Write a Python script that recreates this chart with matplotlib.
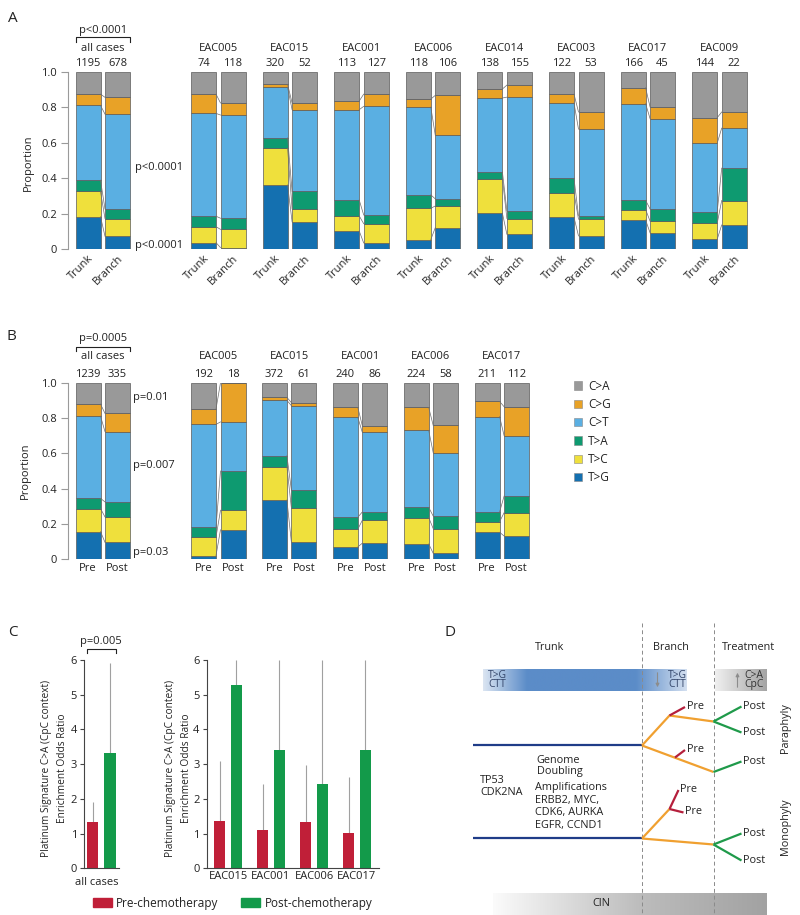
import matplotlib
matplotlib.use("Agg")
import matplotlib.pyplot as plt
import matplotlib.transforms as mtransforms
import numpy as np
from matplotlib.patches import Patch

plt.rcParams["font.family"] = ["Open Sans", "DejaVu Sans"]
plt.rcParams["font.size"] = 8
plt.rcParams["text.color"] = "#222222"
plt.rcParams["axes.labelcolor"] = "#222222"
plt.rcParams["xtick.color"] = "#222222"
plt.rcParams["ytick.color"] = "#222222"

W, H = 800, 915

# mutation classes, bottom to top of every stacked bar
mut_types = ["T>G", "T>C", "T>A", "C>T", "C>G", "C>A"]
mut_colors = ["#1470b0", "#efe03c", "#0e9a70", "#5aafe2", "#e8a227", "#999999"]

# ---- panel A: trunk vs branch ----
a_cases = ["all cases", "EAC005", "EAC015", "EAC001", "EAC006",
           "EAC014", "EAC003", "EAC017", "EAC009"]
a_n_trunk = [1195, 74, 320, 113, 118, 138, 122, 166, 144]
a_n_branch = [678, 118, 52, 127, 106, 155, 53, 45, 22]
a_trunk = [
    [0.183, 0.142, 0.064, 0.422, 0.064, 0.125],
    [0.036, 0.090, 0.059, 0.581, 0.109, 0.125],
    [0.362, 0.206, 0.060, 0.285, 0.017, 0.070],
    [0.102, 0.085, 0.090, 0.510, 0.049, 0.164],
    [0.053, 0.177, 0.076, 0.496, 0.045, 0.153],
    [0.202, 0.196, 0.038, 0.417, 0.051, 0.096],
    [0.179, 0.140, 0.081, 0.425, 0.050, 0.125],
    [0.164, 0.059, 0.052, 0.546, 0.090, 0.089],
    [0.055, 0.090, 0.064, 0.389, 0.144, 0.258],
]
a_branch = [
    [0.072, 0.100, 0.054, 0.536, 0.095, 0.143],
    [0.008, 0.103, 0.063, 0.583, 0.068, 0.175],
    [0.153, 0.073, 0.099, 0.462, 0.038, 0.175],
    [0.034, 0.109, 0.049, 0.614, 0.069, 0.125],
    [0.121, 0.122, 0.040, 0.359, 0.226, 0.132],
    [0.083, 0.089, 0.043, 0.643, 0.068, 0.074],
    [0.074, 0.094, 0.019, 0.490, 0.097, 0.226],
    [0.091, 0.066, 0.069, 0.510, 0.066, 0.198],
    [0.136, 0.138, 0.183, 0.226, 0.091, 0.226],
]
a_p_all = "p<0.0001"
a_p_side = [("p<0.0001", 0.46), ("p<0.0001", 0.02)]

# ---- panel B: pre vs post chemotherapy ----
b_cases = ["all cases", "EAC005", "EAC015", "EAC001", "EAC006", "EAC017"]
b_n_pre = [1239, 192, 372, 240, 224, 211]
b_n_post = [335, 18, 61, 86, 58, 112]
b_pre = [
    [0.157, 0.130, 0.058, 0.466, 0.068, 0.121],
    [0.021, 0.104, 0.056, 0.583, 0.087, 0.149],
    [0.336, 0.189, 0.062, 0.313, 0.017, 0.083],
    [0.070, 0.100, 0.068, 0.566, 0.056, 0.140],
    [0.087, 0.149, 0.058, 0.436, 0.130, 0.140],
    [0.153, 0.060, 0.055, 0.540, 0.086, 0.106],
]
b_post = [
    [0.096, 0.144, 0.085, 0.398, 0.103, 0.174],
    [0.167, 0.111, 0.222, 0.278, 0.222, 0.000],
    [0.096, 0.193, 0.103, 0.478, 0.017, 0.113],
    [0.091, 0.130, 0.047, 0.451, 0.038, 0.243],
    [0.034, 0.140, 0.071, 0.359, 0.154, 0.242],
    [0.132, 0.132, 0.094, 0.342, 0.164, 0.136],
]
b_p_all = "p=0.0005"
b_p_side = [("p=0.01", 0.914), ("p=0.007", 0.53), ("p=0.03", 0.037)]

# ---- panel C: platinum signature enrichment ----
c_cases = ["EAC015", "EAC001", "EAC006", "EAC017"]
c_pre = [1.37, 1.10, 1.33, 1.03]
c_pre_hi = [3.10, 2.43, 2.97, 2.63]
c_post = [5.29, 3.41, 2.44, 3.42]
c_post_hi = [6.0, 6.0, 6.0, 6.0]
c_all = [1.33, 3.32]
c_all_hi = [1.90, 5.90]
c_p_all = "p=0.005"
c_red, c_green = "#c01f38", "#139a4a"

# ---- panel D: schematic tree (pixel layout) ----
d_trunk_lines = [[(473, 745.5), (642, 745.5)], [(473, 838.5), (642, 838.5)]]
d_branch_lines = [[(642, 745.5), (669.5, 715.5), (713.5, 721.5)],
                  [(642, 745.5), (713.5, 772)],
                  [(642, 838.5), (669.5, 809)],
                  [(642, 838.5), (713.5, 844.5)]]
d_pre_lines = [[(669.5, 715.5), (685, 707)], [(675, 757.5), (685, 750)],
               [(669.5, 809), (678.5, 790)], [(669.5, 809), (683.5, 812.5)]]
d_post_lines = [[(713.5, 721.5), (741.5, 706.5)], [(713.5, 721.5), (741.5, 732.5)],
                [(713.5, 772), (741.5, 761.5)],
                [(713.5, 844.5), (741.5, 833.5)], [(713.5, 844.5), (741.5, 860.5)]]

fig = plt.figure(figsize=(W / 100, H / 100), dpi=100)


def add_axes_px(left, top, right, bottom):
    return fig.add_axes([left / W, 1 - bottom / H, (right - left) / W, (bottom - top) / H])


def stacked_pair(ax, x0, x1, left_props, right_props, width):
    for props, x in ((left_props, x0), (right_props, x1)):
        props = np.asarray(props)
        bottoms = np.concatenate([[0], np.cumsum(props)[:-1]])
        ax.bar(np.full(len(props), x), props, width, bottom=bottoms,
               color=mut_colors, edgecolor="#5a5a5a", linewidth=0.5)
    for a, b in zip(np.cumsum(left_props)[:-1], np.cumsum(right_props)[:-1]):
        ax.plot([x0 + width / 2, x1 - width / 2], [a, b], color="#6f6f6f", lw=0.5)


def style_prop_axis(ax):
    for s in ("top", "right", "bottom"):
        ax.spines[s].set_visible(False)
    ax.spines["left"].set_color("#9a9a9a")
    ax.spines["left"].set_linewidth(0.8)
    ax.set_ylim(0, 1)
    ax.set_yticks([0, 0.2, 0.4, 0.6, 0.8, 1.0], ["0", "0.2", "0.4", "0.6", "0.8", "1.0"])
    ax.tick_params(axis="y", length=5, width=0.8, color="#9a9a9a", pad=3)
    ax.tick_params(axis="x", length=0)
    ax.patch.set_alpha(0)


def stacked_panel(ax, cases, n_left, n_right, left, right, step, lab_left, lab_right,
                  y_num, y_name, y_br, y_p, p_all):
    width = 25
    centers, labels = [], []
    for i, case in enumerate(cases):
        if i == 0:
            x0 = 20
        else:
            x0 = 135.5 + step * (i - 1)
        x1 = x0 + 29.5
        stacked_pair(ax, x0, x1, left[i], right[i], width)
        ax.text(x0, y_num, str(n_left[i]), ha="center", va="center")
        ax.text(x1, y_num, str(n_right[i]), ha="center", va="center")
        ax.text((x0 + x1) / 2, y_name, case, ha="center", va="center")
        centers += [x0, x1]
        labels += [lab_left, lab_right]
        if i == 0:
            xa, xb = x0 - width / 2, x1 + width / 2
            ax.plot([xa, xa, xb, xb], [y_br - 0.025, y_br, y_br, y_br - 0.025],
                    color="#222222", lw=0.8, clip_on=False)
            ax.text((xa + xb) / 2, y_p, p_all, ha="center", va="center")
    ax.set_xlim(0, 692)
    return centers, labels


# ---------------- panel A ----------------
ax_a = add_axes_px(68, 72, 760, 249)
style_prop_axis(ax_a)
cen, lab = stacked_panel(ax_a, a_cases, a_n_trunk, a_n_branch, a_trunk, a_branch, 71.6,
                         "Trunk", "Branch", 1.049, 1.134, 1.196, 1.236, a_p_all)
ax_a.set_xticks(cen, lab, rotation=45, ha="right", rotation_mode="anchor")
shift = mtransforms.ScaledTranslation(7 / 100, 0, fig.dpi_scale_trans)
for t in ax_a.get_xticklabels():
    t.set_transform(t.get_transform() + shift)
ax_a.tick_params(axis="x", pad=3)
for txt, yy in a_p_side:
    ax_a.text(67, yy, txt, ha="left", va="center")
ax_a.set_ylabel("Proportion")
ax_a.yaxis.set_label_coords(-0.05, 0.49)

# ---------------- panel B ----------------
ax_b = add_axes_px(68, 382.7, 760, 559.3)
style_prop_axis(ax_b)
cen, lab = stacked_panel(ax_b, b_cases, b_n_pre, b_n_post, b_pre, b_post, 70.9,
                         "Pre", "Post", 1.046, 1.147, 1.204, 1.25, b_p_all)
ax_b.set_xticks(cen, lab)
ax_b.tick_params(axis="x", pad=3)
for txt, yy in b_p_side:
    ax_b.text(65, yy, txt, ha="left", va="center")
ax_b.set_ylabel("Proportion")
ax_b.yaxis.set_label_coords(-0.054, 0.5)

handles = [Patch(facecolor=c, edgecolor="#888888", linewidth=0.4)
           for c in mut_colors[::-1]]
fig.legend(handles, mut_types[::-1], loc="upper left",
           bbox_to_anchor=(563 / W, 1 - 369 / H), frameon=False,
           handlelength=0.7, handleheight=0.7, handletextpad=0.5,
           labelspacing=0.45, fontsize=8.5)

# ---------------- panel C ----------------
def style_c_axis(ax):
    for s in ("top", "right"):
        ax.spines[s].set_visible(False)
    for s in ("left", "bottom"):
        ax.spines[s].set_color("#444444")
        ax.spines[s].set_linewidth(0.8)
    ax.set_ylim(0, 6)
    ax.set_yticks(range(7))
    ax.tick_params(axis="y", length=3, width=0.8, color="#444444", pad=2)
    ax.tick_params(axis="x", length=0, pad=2)
    ax.patch.set_alpha(0)


ylab_c = "Platinum Signature C>A (CpC context)\nEnrichment Odds Ratio"

ax_cl = add_axes_px(83.9, 660, 118.5, 868.3)
style_c_axis(ax_cl)
ax_cl.set_xlim(-0.5, 1.5)
ax_cl.vlines([0, 1], c_all, c_all_hi, color="#a0a0a0", lw=0.8, zorder=1)
ax_cl.bar([0, 1], c_all, 0.67, color=[c_red, c_green], zorder=2)
ax_cl.set_xticks([0.25], ["all cases"])
ax_cl.tick_params(axis="x", pad=6)
ax_cl.plot([-0.34, -0.34, 1.34, 1.34], [6.21, 6.31, 6.31, 6.21],
           color="#222222", lw=0.8, clip_on=False)
ax_cl.text(0.5, 6.53, c_p_all, ha="center", va="center")
ax_cl.set_ylabel(ylab_c, linespacing=1.6, fontsize=7.3)
ax_cl.yaxis.set_label_coords(-0.47, 0.48)

ax_cr = add_axes_px(206.5, 660, 378.5, 868.3)
style_c_axis(ax_cr)
ax_cr.set_xlim(-0.5, 3.5)
xg = np.arange(len(c_cases))
ax_cr.vlines(xg - 0.19, c_pre, c_pre_hi, color="#a0a0a0", lw=0.8, zorder=1)
ax_cr.vlines(xg + 0.19, c_post, c_post_hi, color="#a0a0a0", lw=0.8, zorder=1)
ax_cr.bar(xg - 0.19, c_pre, 0.25, color=c_red, zorder=2)
ax_cr.bar(xg + 0.19, c_post, 0.25, color=c_green, zorder=2)
ax_cr.set_xticks(xg, c_cases)
ax_cr.set_ylabel(ylab_c, linespacing=1.6, fontsize=7.3)
ax_cr.yaxis.set_label_coords(-0.087, 0.48)

fig.legend([Patch(color=c_red), Patch(color=c_green)],
           ["Pre-chemotherapy", "Post-chemotherapy"], loc="center left",
           bbox_to_anchor=(82 / W, 1 - 903 / H), ncol=2, frameon=False,
           handlelength=1.6, handleheight=0.8, handletextpad=0.4,
           columnspacing=1.9, fontsize=8.5)

# ---------------- panel D ----------------
ax_d = add_axes_px(440, 615, 800, 915)
ax_d.set_axis_off()


def gradient(ax, x0, x1, y0, y1, stops_x, stops_rgb):
    xs = np.linspace(x0, x1, 300)
    rgb = np.array([np.interp(xs, stops_x, [c[k] for c in stops_rgb]) for k in range(3)]).T
    ax.imshow(rgb[None, :, :], extent=[x0, x1, y1, y0], aspect="auto",
              interpolation="bilinear", zorder=0)


def hex2rgb(h):
    return tuple(int(h[i:i + 2], 16) / 255 for i in (1, 3, 5))


gradient(ax_d, 483, 687, 669, 691, [483, 527, 636, 687],
         [hex2rgb("#dbe5f2"), hex2rgb("#5b8cc8"), hex2rgb("#5b8cc8"), hex2rgb("#d3dff0")])
gradient(ax_d, 715, 767, 669, 691, [715, 767],
         [hex2rgb("#f0f0f0"), hex2rgb("#a4a4a4")])
gradient(ax_d, 493, 767, 893, 915, [493, 641, 767],
         [hex2rgb("#fbfbfb"), hex2rgb("#bcbcbc"), hex2rgb("#a2a2a2")])
ax_d.set_xlim(440, 800)
ax_d.set_ylim(915, 615)

for xv in (641.5, 714):
    ax_d.plot([xv, xv], [623, 915], color="#8a8a8a", lw=0.7, ls=(0, (4, 3)), zorder=1)

ax_d.text(450, 633, "D", fontsize=11, ha="center", va="center")
for txt, xv in (("Trunk", 550), ("Branch", 671), ("Treatment", 749)):
    ax_d.text(xv, 648, txt, ha="center", va="center", fontsize=7.8)

for xv, txt in ((488, "T>G\nCTT"), (668, "T>G\nCTT")):
    ax_d.text(xv, 680, txt, ha="left", va="center", fontsize=7.5, color="#34466a",
              linespacing=0.8)
ax_d.text(744, 680, "C>A\nCpC", ha="left", va="center", fontsize=7.5, color="#333333",
          linespacing=0.8)
ax_d.annotate("", xy=(657.5, 690), xytext=(657.5, 670),
              arrowprops=dict(arrowstyle="-|>", color="#8c8c8c", lw=0.8, mutation_scale=5))
ax_d.annotate("", xy=(737.5, 670), xytext=(737.5, 690),
              arrowprops=dict(arrowstyle="-|>", color="#8c8c8c", lw=0.8, mutation_scale=5))

for segs, col in ((d_trunk_lines, "#1f3c88"), (d_branch_lines, "#f0a030"),
                  (d_pre_lines, "#b51f3c"), (d_post_lines, "#1f9a4a")):
    for seg in segs:
        xs, ys = zip(*seg)
        ax_d.plot(xs, ys, color=col, lw=1.6, solid_capstyle="butt", zorder=3)

for seg in d_pre_lines:
    xe, ye = seg[-1]
    ax_d.text(xe + 1.5, ye - 0.5, "Pre", ha="left", va="center", fontsize=7.8)
for seg in d_post_lines:
    xe, ye = seg[-1]
    ax_d.text(xe + 1.5, ye, "Post", ha="left", va="center", fontsize=7.8)

ax_d.text(536.5, 755, "Genome\nDoubling", ha="left", va="top", fontsize=7.8,
          linespacing=1.0)
ax_d.text(480, 775, "TP53\nCDK2NA", ha="left", va="top", fontsize=7.8, linespacing=1.15)
ax_d.text(535, 782, "Amplifications\nERBB2, MYC,\nCDK6, AURKA\nEGFR, CCND1",
          ha="left", va="top", fontsize=7.8, linespacing=1.2)
ax_d.text(785, 728, "Paraphyly", rotation=90, ha="center", va="center", fontsize=7.8)
ax_d.text(785, 827, "Monophyly", rotation=90, ha="center", va="center", fontsize=7.8)
ax_d.text(601.5, 904, "CIN", ha="center", va="center", fontsize=7.8)

# panel letters
fig.text(8 / W, 1 - 18 / H, "A", fontsize=11, va="center")
fig.text(7 / W, 1 - 337 / H, "B", fontsize=11, va="center")
fig.text(8 / W, 1 - 633 / H, "C", fontsize=11, va="center")

fig.savefig("out.png", dpi=100)
